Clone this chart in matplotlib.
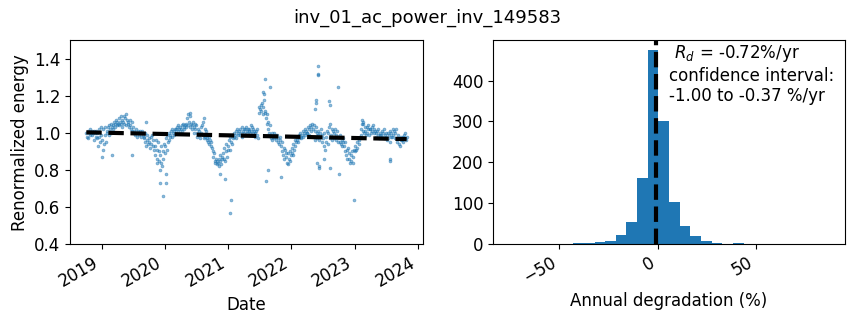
import numpy as np
import pandas as pd
import matplotlib
matplotlib.use('Agg')
import matplotlib.pyplot as plt

plt.rcParams['font.size'] = 12

title = 'inv_01_ac_power_inv_149583'
rd = -0.72
ci_low, ci_high = -1.00, -0.37
trend_start = 1.003

# renormalized energy, 8 readings per month, Oct 2018 .. Oct 2023
monthly_vals = [
    [1.00, 0.98, 1.01, 0.97, 1.00, 1.02, 0.99, 1.00],  # 2018-10
    [1.01, 0.99, 1.00, 0.96, 1.01, 1.00, 0.98, 1.01],
    [0.97, 1.00, 0.93, 0.98, 1.02, 0.95, 0.99, 1.03],
    [0.96, 0.91, 1.02, 0.94, 0.99, 1.03, 0.95, 1.00],  # 2019-01
    [1.01, 1.03, 0.99, 1.04, 1.02, 1.00, 1.05, 1.03],
    [1.04, 1.02, 1.06, 1.03, 1.05, 1.07, 1.04, 1.06],
    [1.05, 1.08, 1.04, 1.06, 1.09, 1.05, 1.07, 1.03],
    [1.06, 1.09, 1.05, 1.08, 1.10, 1.04, 1.07, 1.06],
    [1.05, 1.03, 1.07, 1.04, 1.02, 1.06, 1.01, 1.03],
    [1.00, 1.01, 0.99, 1.02, 1.00, 0.98, 1.01, 1.00],
    [0.99, 1.01, 1.00, 0.98, 1.00, 1.01, 0.99, 0.98],
    [0.97, 0.95, 1.00, 0.93, 0.96, 0.99, 0.94, 0.97],
    [0.95, 0.92, 0.98, 0.94, 0.99, 0.93, 0.96, 0.91],
    [0.93, 0.88, 0.96, 0.86, 0.91, 0.95, 0.85, 0.90],
    [0.88, 0.84, 0.93, 0.82, 0.90, 0.86, 0.94, 0.89],
    [0.93, 0.97, 0.91, 0.99, 0.95, 1.00, 0.96, 0.98],  # 2020-01
    [0.99, 1.01, 0.98, 1.02, 1.00, 0.99, 1.01, 1.02],
    [1.02, 1.00, 1.03, 1.01, 1.04, 1.02, 1.00, 1.03],
    [1.02, 1.04, 1.01, 1.05, 1.03, 1.02, 1.04, 1.03],
    [1.05, 1.08, 1.04, 1.10, 1.06, 1.03, 1.09, 1.05],
    [1.04, 1.02, 1.06, 1.03, 1.00, 1.05, 1.02, 1.04],
    [1.00, 0.98, 1.02, 0.99, 1.01, 0.97, 1.03, 1.00],
    [1.04, 0.99, 1.06, 0.97, 1.02, 0.98, 1.01, 0.96],
    [0.97, 0.95, 0.98, 0.94, 0.96, 0.93, 0.95, 0.92],
    [0.90, 0.87, 0.89, 0.85, 0.84, 0.86, 0.83, 0.85],
    [0.84, 0.82, 0.86, 0.88, 0.85, 0.83, 0.87, 0.86],
    [0.89, 0.86, 0.92, 0.85, 0.90, 0.94, 0.87, 0.91],
    [0.93, 0.96, 0.91, 0.98, 0.95, 0.99, 0.94, 0.97],  # 2021-01
    [0.98, 1.00, 0.99, 1.01, 0.97, 1.02, 1.00, 0.99],
    [1.01, 0.99, 1.02, 1.00, 1.03, 0.98, 1.01, 1.02],
    [1.00, 1.02, 0.99, 1.03, 1.01, 1.00, 1.02, 1.01],
    [1.02, 1.00, 1.04, 1.01, 1.03, 1.00, 1.02, 1.01],
    [1.00, 0.98, 1.01, 0.99, 1.02, 0.97, 1.11, 1.14],
    [1.13, 1.15, 1.12, 1.16, 1.10, 1.14, 1.18, 1.11],
    [1.12, 1.08, 1.05, 1.10, 1.02, 1.06, 1.00, 1.04],
    [0.99, 0.97, 1.00, 0.96, 0.98, 1.00, 0.97, 0.99],
    [0.98, 0.96, 0.99, 0.95, 0.97, 0.94, 0.98, 0.96],
    [0.93, 0.90, 0.95, 0.88, 0.92, 0.86, 0.91, 0.89],
    [0.87, 0.84, 0.89, 0.83, 0.86, 0.90, 0.85, 0.88],
    [0.89, 0.92, 0.88, 0.94, 0.91, 0.96, 0.93, 0.95],  # 2022-01
    [0.96, 0.98, 0.95, 0.99, 0.97, 1.00, 0.98, 0.97],
    [0.99, 1.01, 0.98, 1.00, 1.02, 0.99, 1.01, 1.00],
    [1.00, 1.03, 0.99, 1.02, 1.04, 1.01, 1.03, 1.05],
    [1.02, 0.98, 1.04, 0.96, 1.01, 1.03, 0.97, 1.00],
    [0.99, 1.01, 0.96, 1.00, 0.98, 1.02, 0.95, 0.99],
    [0.97, 0.93, 1.00, 0.91, 0.98, 0.95, 1.01, 0.94],
    [1.00, 1.03, 0.97, 1.05, 0.99, 1.02, 0.96, 1.01],
    [1.00, 0.97, 1.02, 0.96, 0.99, 1.01, 0.95, 0.98],
    [0.97, 0.95, 0.99, 0.94, 0.96, 0.93, 0.97, 0.95],
    [0.93, 0.90, 0.95, 0.88, 0.91, 0.86, 0.92, 0.89],
    [0.86, 0.84, 0.88, 0.85, 0.90, 0.84, 0.87, 0.91],
    [0.90, 0.93, 0.91, 0.95, 0.92, 0.97, 0.94, 0.96],  # 2023-01
    [0.98, 1.02, 0.99, 1.05, 1.01, 1.06, 1.00, 1.03],
    [1.01, 0.99, 1.03, 1.00, 1.02, 1.04, 0.99, 1.02],
    [1.02, 1.00, 1.03, 1.01, 1.04, 1.00, 1.02, 1.01],
    [1.00, 0.98, 1.01, 0.99, 1.02, 0.97, 1.00, 0.99],
    [0.99, 1.01, 0.98, 1.00, 0.97, 1.02, 0.99, 1.00],
    [0.98, 0.96, 1.00, 0.97, 0.99, 0.95, 1.01, 0.98],
    [1.00, 0.98, 1.02, 0.99, 1.01, 0.97, 1.00, 1.02],
    [0.97, 0.95, 0.99, 0.94, 0.97, 0.93, 0.96, 0.98],
    [0.96, 0.98, 0.95, 0.99, 0.97, 1.00, 0.96, 0.98],  # 2023-10
]
start_date = '2018-10-05'
end_date = '2023-10-28'

# isolated points away from the main band
outlier_dates = [
    '2019-01-02', '2019-03-01', '2019-06-28', '2019-09-16', '2019-11-17',
    '2019-12-06', '2019-12-02', '2019-12-20', '2020-01-08', '2020-01-10',
    '2020-05-26', '2020-08-15', '2020-11-14', '2020-12-13', '2021-01-16',
    '2021-01-12', '2021-07-20', '2021-07-25', '2021-08-03', '2021-09-01',
    '2021-08-10', '2021-08-17', '2021-11-02', '2022-05-18', '2022-05-22',
    '2022-05-25', '2022-06-02', '2022-06-04', '2022-06-05', '2022-05-28',
    '2022-06-08', '2022-06-12', '2022-07-10', '2022-08-08', '2022-08-12',
    '2022-08-14', '2022-09-28', '2022-10-05', '2022-12-31', '2023-02-15',
    '2023-02-18', '2023-07-24', '2023-07-26',
]
outlier_vals = [
    0.87, 0.88, 0.88, 1.06, 0.84,
    0.80, 0.73, 0.66, 0.73, 0.78,
    1.11, 1.08, 0.78, 0.75, 0.64,
    0.57, 1.22, 1.21, 1.29, 1.25,
    0.74, 0.80, 0.76, 1.13, 1.18,
    1.16, 1.36, 1.32, 1.31, 0.84,
    0.82, 0.81, 0.86, 1.17, 1.15,
    0.81, 1.25, 0.78, 0.64, 1.07,
    1.05, 0.86, 0.85,
]

# histogram of year-on-year slopes
hist_edges_first = -75.38
hist_bin_width = 5.41
hist_counts = [1, 0, 0, 0, 0, 0, 2, 2, 4, 7, 22, 54, 162, 475, 300,
               103, 45, 20, 8, 3, 1, 3, 0, 0, 0, 0, 0, 0, 0, 1]

vals = np.concatenate([np.array(m) for m in monthly_vals])
dates = pd.date_range(start_date, end_date, periods=len(vals))
energy = pd.Series(vals, index=dates)
outliers = pd.Series(outlier_vals, index=pd.to_datetime(outlier_dates))
energy = pd.concat([energy, outliers]).sort_index()

fig = plt.figure(figsize=(8.54, 3.24), dpi=100)
ax1 = fig.add_axes([0.0823, 0.2469, 0.4126, 0.6287])
ax2 = fig.add_axes([0.5776, 0.2469, 0.4118, 0.6287])

ax1.plot(energy.index, energy.values, 'o', color='#1f77b4', alpha=0.5,
         markersize=2, markeredgewidth=0.6)
years = (dates[-1] - dates[0]).days / 365.25
ax1.plot([dates[0], dates[-1]],
         [trend_start, trend_start * (1 + rd / 100 * years)],
         'k--', linewidth=3)
ax1.set_ylim(0.4, 1.5)
ax1.set_ylabel('Renormalized energy')
ax1.set_xlabel('Date')

edges = hist_edges_first + hist_bin_width * np.arange(len(hist_counts) + 1)
centers = (edges[:-1] + edges[1:]) / 2
ax2.hist(centers, bins=edges, weights=hist_counts, color='#1f77b4')
ax2.axvline(rd, color='black', linestyle='dashed', linewidth=3)
ax2.set_xlabel('Annual degradation (%)')
label = (' $R_{d}$ = %.2f%%/yr \nconfidence interval: \n%.2f to %.2f %%/yr'
         % (rd, ci_low, ci_high))
ax2.annotate(label, xy=(0.5, 0.7), xycoords='axes fraction')

for ax in (ax1, ax2):
    for lbl in ax.get_xticklabels():
        lbl.set_rotation(30)
        lbl.set_ha('right')

fig.suptitle(title, fontsize=13, y=0.944, va='center')
fig.savefig('out.png', dpi=100)
